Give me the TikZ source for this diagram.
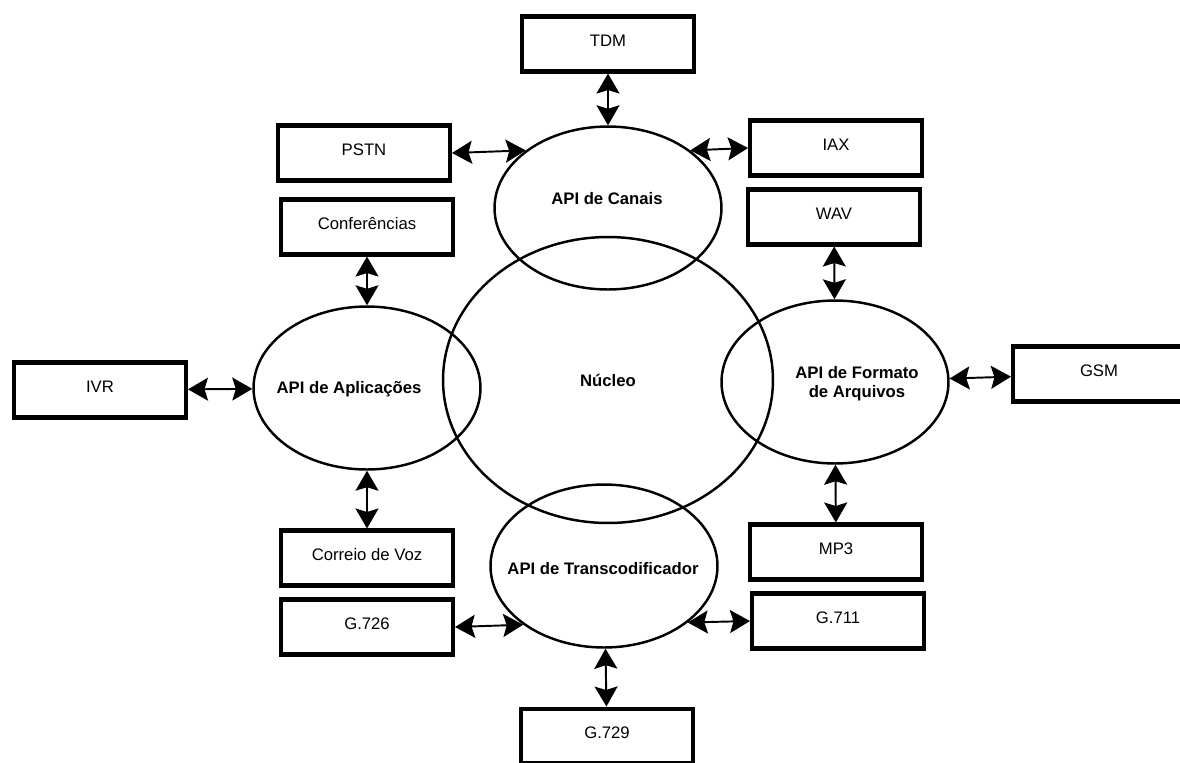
\documentclass[tikz,border=0pt]{standalone}
\usepackage{fontspec}
\setmainfont{Liberation Sans}
\usetikzlibrary{shapes.geometric,arrows.meta}

\tikzstyle{caixa}= [rectangle,draw,black,line width=2.3pt,minimum width=3.44cm,minimum height=1.1cm,text height=0.3cm,text depth=0.22cm,font=\fontsize{9.5}{11}\selectfont]
\tikzstyle{api}= [ellipse,draw,black,line width=1.4pt,minimum width=4.54cm,minimum height=3.26cm,inner sep=0pt]
\tikzstyle{rotulo}= [align=center,font=\bfseries\fontsize{9.5}{11}\selectfont]
\tikzstyle{seta}= [black,line width=1.1pt,{Stealth[width=0.46cm,length=0.4cm,inset=0.07cm]}-{Stealth[width=0.46cm,length=0.4cm,inset=0.07cm]}]

\begin{document}
\begin{tikzpicture}[x=0.02cm,y=-0.02cm]
		\useasboundingbox (0,0) rectangle (1180,762);

		% nucleo e APIs
		\node (nucleo) at (608,380) [api,minimum width=6.6cm,minimum height=5.72cm] {};
		\node at (608,380) [rotulo] {Núcleo};

		\node (canais) at (608,208) [api] {};
		\node at (607,199) [rotulo] {API de Canais};

		\node (apl) at (367,388) [api] {};
		\node at (349,389) [rotulo] {API de Aplicações};

		\node (formato) at (835,382) [api] {};
		\node at (857,384) [rotulo] {API de Formato\\de Arquivos};

		\node (transc) at (604,566) [api] {};
		\node at (603,569) [rotulo] {API de Transcodificador};

		% caixas
		\node (tdm) at (608,44) [caixa] {TDM};
		\node (pstn) at (364,153) [caixa] {PSTN};
		\node (iax) at (836,148) [caixa] {IAX};
		\node (conf) at (367,227) [caixa] {Conferências};
		\node (wav) at (834,217) [caixa] {WAV};
		\node (ivr) at (100,390) [caixa] {IVR};
		\node (gsm) at (1099,374) [caixa] {GSM};
		\node (correio) at (367,558) [caixa] {Correio de Voz};
		\node (mp3) at (836,552) [caixa] {MP3};
		\node (g726) at (367,627) [caixa] {G.726};
		\node (g711) at (838,621) [caixa] {G.711};
		\node (g729) at (607,736) [caixa] {G.729};

		% setas
		\path[seta] (tdm) edge (canais);
		\path[seta] (pstn.east) edge (canais.145);
		\path[seta] (iax.west) edge (canais.35);

		\path[seta] (conf) edge (apl);
		\path[seta] (ivr) edge (apl);
		\path[seta] (correio) edge (apl);

		\path[seta] (wav) edge (formato);
		\path[seta] (gsm) edge (formato);
		\path[seta] (mp3) edge (formato);

		\path[seta] (g726.east) edge (transc.216);
		\path[seta] (g711.west) edge (transc.326);
		\path[seta] (g729) edge (transc);

\end{tikzpicture}
\end{document}
